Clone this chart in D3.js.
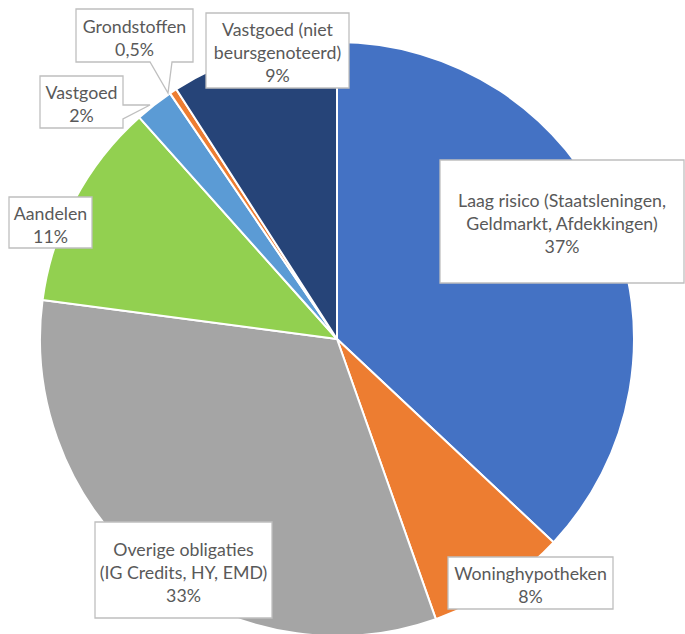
<!DOCTYPE html>
<html><head><meta charset="utf-8">
<script src="https://cdn.jsdelivr.net/npm/d3@7"></script>
<style>body{margin:0;background:#fff;overflow:hidden}</style>
</head><body><svg id="c" width="685" height="634"></svg>
<script>
// ---- data ----
const categories = ["Laag risico (Staatsleningen, Geldmarkt, Afdekkingen)", "Woninghypotheken", "Overige obligaties (IG Credits, HY, EMD)", "Aandelen", "Vastgoed", "Grondstoffen", "Vastgoed (niet beursgenoteerd)"];
const labelLines = [["Laag risico (Staatsleningen,", "Geldmarkt, Afdekkingen)"], ["Woninghypotheken"], ["Overige obligaties", "(IG Credits, HY, EMD)"], ["Aandelen"], ["Vastgoed"], ["Grondstoffen"], ["Vastgoed (niet", "beursgenoteerd)"]];
const values = [37.0, 7.6, 32.5, 11.3, 2.1, 0.4, 9.1];
const percentLabels = ["37%", "8%", "33%", "11%", "2%", "0,5%", "9%"];
const colors = ["#4472C4", "#ED7D31", "#A5A5A5", "#92D050", "#5B9BD5", "#ED7D31", "#264478"];

// ---- layout (label boxes, manually placed like the original) ----
const boxes = [
  {x: 440, y: 160, w: 244, h: 123},
  {x: 448, y: 557, w: 165, h: 52},
  {x: 95, y: 522, w: 177, h: 96},
  {x: 9, y: 197, w: 83, h: 51},
  {x: 40, y: 76, w: 83, h: 52, ptr: {side: "right", a: 105, b: 119, tip: [150, 105]}},
  {x: 76, y: 9, w: 117, h: 53, ptr: {side: "bottom", a: 150, b: 172, tip: [168, 93]}},
  {x: 206, y: 13, w: 143, h: 75}
];

const W = 685, H = 634, cx = 337, cy = 339, R = 297;
const svg = d3.select("#c");
const font = "Lato, 'Open Sans', sans-serif";

const pie = d3.pie().sort(null).value(d => d)(values);
const arc = d3.arc().innerRadius(0).outerRadius(R);
svg.append("g").attr("transform", `translate(${cx},${cy})`)
  .selectAll("path").data(pie).join("path")
  .attr("d", arc)
  .attr("fill", (d, i) => colors[i])
  .attr("stroke", "#fff").attr("stroke-width", 2).attr("stroke-linejoin", "round");

// auto-fit font size to the original text width
const probe = svg.append("text").attr("font-family", font).attr("font-size", 100).text(labelLines[0][0]);
const fs = 100 * 208 / probe.node().getComputedTextLength();
probe.remove();
const lh = 23;

function boxPath(b) {
  const x0 = b.x, y0 = b.y, x1 = b.x + b.w, y1 = b.y + b.h;
  const p = b.ptr;
  if (!p) return `M${x0},${y0}H${x1}V${y1}H${x0}Z`;
  if (p.side === "right") return `M${x0},${y0}H${x1}V${p.a}L${p.tip[0]},${p.tip[1]}L${x1},${p.b}V${y1}H${x0}Z`;
  return `M${x0},${y0}H${x1}V${y1}H${p.b}L${p.tip[0]},${p.tip[1]}L${p.a},${y1}H${x0}Z`;
}

const lg = svg.append("g");
boxes.forEach((b, i) => {
  lg.append("path").attr("d", boxPath(b))
    .attr("fill", "#fff").attr("stroke", "#BFBFBF").attr("stroke-width", 1.3);
  const lines = labelLines[i].concat([percentLabels[i]]);
  const mid = b.y + b.h / 2 + 1.5;
  const t = lg.append("text").attr("font-family", font).attr("font-size", fs)
    .attr("fill", "#595959").attr("text-anchor", "middle");
  lines.forEach((l, k) => {
    t.append("tspan").attr("x", b.x + b.w / 2)
      .attr("y", mid + (k - (lines.length - 1) / 2) * lh)
      .attr("dominant-baseline", "central").text(l);
  });
});
</script></body></html>
